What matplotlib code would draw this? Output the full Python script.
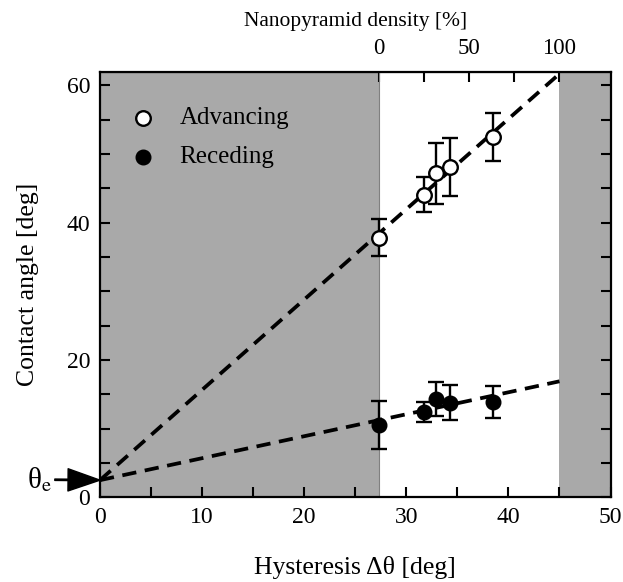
import matplotlib
matplotlib.use('Agg')
import matplotlib.pyplot as plt
import numpy as np

plt.rcParams['font.family'] = ['Liberation Serif', 'DejaVu Serif']
plt.rcParams['mathtext.fontset'] = 'stix'

# *** Data ***
hyst_adv = [27.3, 31.7, 32.9, 34.3, 38.5]
angle_adv = [37.8, 44.1, 47.2, 48.1, 52.5]
err_adv = [2.7, 2.5, 4.4, 4.2, 3.5]

hyst_rec = [27.3, 31.7, 32.9, 34.3, 38.5]
angle_rec = [10.6, 12.4, 14.3, 13.8, 13.9]
err_rec = [3.5, 1.5, 2.5, 2.5, 2.3]

theta_e = 2.5
fit_end = 45.0
adv_fit_top = 61.7
rec_fit_top = 16.9

# density axis: 0 % at x=27.3, 100 % at x=45
dens_lo = 27.3
dens_hi = 45.0

shade = '#a9a9a9'


def to_density(x):
    return (x - dens_lo) / (dens_hi - dens_lo) * 100.0


def from_density(d):
    return dens_lo + d / 100.0 * (dens_hi - dens_lo)


fig = plt.figure(figsize=(6.23, 5.82), dpi=100)
ax = fig.add_axes([0.1605, 0.1455, 0.8195, 0.7313])

ax.axvspan(0, dens_lo, color=shade, lw=0, zorder=0)
ax.axvspan(dens_hi, 50, color=shade, lw=0, zorder=0)
ax.axvline(dens_lo, color='#808080', lw=0.8, zorder=0.5)

# linear fits through theta_e
ax.plot([0, fit_end], [theta_e, adv_fit_top], color='k', lw=2.7,
        dashes=(3.8, 2.3), zorder=2)
ax.plot([0, fit_end], [theta_e, rec_fit_top], color='k', lw=2.7,
        dashes=(3.8, 2.3), zorder=2)

ax.errorbar(hyst_adv, angle_adv, yerr=err_adv, fmt='o', mfc='white', mec='k',
            mew=1.7, ms=10.5, ecolor='k', elinewidth=1.7, capsize=6,
            capthick=1.7, zorder=3)
ax.errorbar(hyst_rec, angle_rec, yerr=err_rec, fmt='o', mfc='k', mec='k',
            ms=10.5, ecolor='k', elinewidth=1.7, capsize=6, capthick=1.7,
            zorder=3)

ax.set_xlim(0, 50)
ax.set_ylim(0, 62)
ax.set_xticks([0, 10, 20, 30, 40, 50])
ax.set_xticks(np.arange(0, 51, 5), minor=True)
ax.set_yticks([0, 20, 40, 60])
ax.set_yticks(np.arange(0, 61, 5), minor=True)
ax.tick_params(which='both', direction='in', right=True, top=False,
               width=1.5, length=7, labelsize=17, pad=7)
for s in ax.spines.values():
    s.set_linewidth(1.6)

ax.set_xlabel('Hysteresis Δθ [deg]', fontsize=18.5, labelpad=20)
ax.set_ylabel('Contact angle [deg]', fontsize=18.5, labelpad=20)

top = ax.secondary_xaxis('top', functions=(to_density, from_density))
top.set_xticks([0, 50, 100])
top.set_xticks([25, 75], minor=True)
top.tick_params(which='both', direction='in', length=7, width=1.5,
                labelsize=16.5, pad=9)
top.set_xlabel('Nanopyramid density [%]', fontsize=15.5, labelpad=9)

# legend
ax.plot([4.2], [55.2], 'o', mfc='white', mec='k', mew=1.7, ms=10.5)
ax.plot([4.2], [49.6], 'o', mfc='k', mec='k', ms=10.5)
ax.text(7.8, 55.2, 'Advancing', fontsize=18, va='center')
ax.text(7.8, 49.6, 'Receding', fontsize=18, va='center')

ax.annotate('θ$_\\mathrm{e}$', xy=(0, theta_e), xytext=(-73, -8),
            textcoords='offset pixels', fontsize=21, va='baseline',
            annotation_clip=False,
            arrowprops=dict(facecolor='k', edgecolor='k', width=1,
                            headwidth=16, headlength=23, shrink=0))

fig.savefig('out.png', dpi=100)
